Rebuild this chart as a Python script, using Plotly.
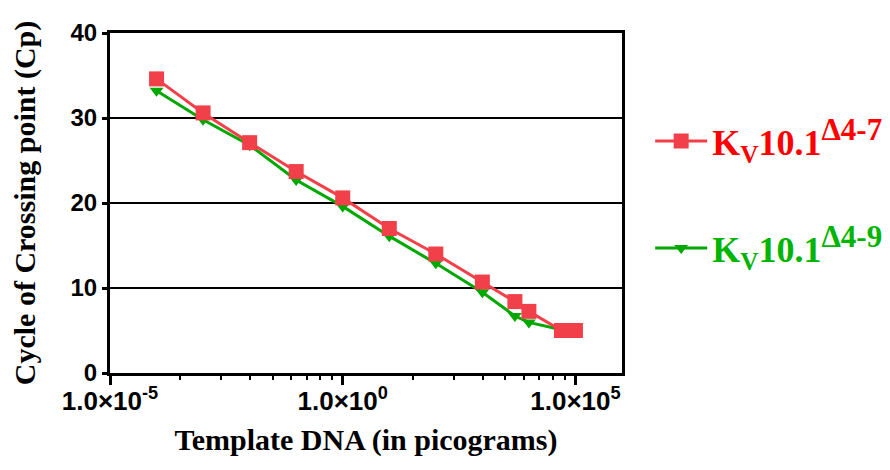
import math
import plotly.graph_objects as go

# Data
template_dna_pg = [1e-4, 1e-3, 1e-2, 1e-1, 1e0, 1e1, 1e2, 1e3, 5e3, 1e4, 5e4, 1e5]
cp_delta_4_7 = [34.6, 30.6, 27.1, 23.7, 20.6, 17.0, 14.0, 10.7, 8.4, 7.25, 5.0, 5.0]
cp_delta_4_9 = [33.2, 29.8, 26.8, 22.7, 19.6, 16.1, 12.9, 9.5, 6.7, 5.95, 5.1, 5.0]

x_tick_vals = [1e-5, 1e0, 1e5]
x_tick_text = ["1.0×10<sup>-5</sup>", "1.0×10<sup>0</sup>", "1.0×10<sup>5</sup>"]
y_tick_vals = [0, 10, 20, 30, 40]

series_names = [
    '<span style="color:#FF0000">K<sub>V</sub>10.1<sup><span style="font-size:31px">Δ4-7</span></sup></span>',
    '<span style="color:#00B400">K<sub>V</sub>10.1<sup><span style="font-size:31px">Δ4-9</span></sup></span>',
]

# minor ticks (Prism style: log-spaced within each 5-decade major interval)
minor_vals = []
for base in (-5, 0):
    for k in range(2, 10):
        minor_vals.append(10 ** (base + 5 * math.log10(k)))

SANS = "Arial, Liberation Sans, sans-serif"
SERIF = "Times New Roman, Liberation Serif, serif"

fig = go.Figure()
fig.add_trace(go.Scatter(
    x=template_dna_pg, y=cp_delta_4_9, name=series_names[1],
    mode="lines+markers", legendgroup="b", legendrank=2,
    line=dict(color="#00A800", width=3),
    marker=dict(symbol="triangle-down", size=12, color="#00A800"),
))
fig.add_trace(go.Scatter(
    x=template_dna_pg, y=cp_delta_4_7, name=series_names[0],
    mode="lines+markers", legendgroup="a", legendrank=1,
    line=dict(color="#F2404A", width=3),
    marker=dict(symbol="square", size=15, color="#F2404A"),
))

# the page body has an 8px default margin, so the figure is sized/placed to compensate
fig.update_layout(
    width=882, height=462,
    margin=dict(l=102, r=268, t=25, b=97, autoexpand=False),
    paper_bgcolor="white", plot_bgcolor="white",
    showlegend=True,
    legend=dict(
        x=1.055, xanchor="left", y=0.77, yanchor="top",
        font=dict(family=SERIF, size=36, weight="bold"),
        tracegroupgap=57, bgcolor="rgba(0,0,0,0)",
        traceorder="grouped", itemwidth=52,
    ),
    xaxis=dict(
        type="log", range=[-5, 6], automargin=False,
        tickmode="array", tickvals=x_tick_vals, ticktext=x_tick_text,
        tickfont=dict(family=SANS, size=26, color="black", weight="bold"),
        ticks="outside", ticklen=9, tickwidth=3, tickcolor="black",
        ticklabelstandoff=-6,
        showline=True, linecolor="black", linewidth=3, mirror=True,
        showgrid=False, zeroline=False,
        minor=dict(tickmode="array", tickvals=minor_vals, ticks="outside",
                   ticklen=4, tickwidth=2, tickcolor="black", showgrid=False),
        title=dict(text="Template DNA (in picograms)", standoff=14,
                   font=dict(family=SERIF, size=30, color="black", weight="bold")),
    ),
    yaxis=dict(
        range=[0, 40], tickmode="array", tickvals=y_tick_vals, automargin=False,
        tickfont=dict(family=SANS, size=24, color="black", weight="bold"),
        ticks="outside", ticklen=5, tickwidth=3, tickcolor="black",
        showline=True, linecolor="black", linewidth=3, mirror=True,
        showgrid=True, gridcolor="black", gridwidth=1.5, zeroline=False,
        title=dict(text="Cycle of Crossing point (Cp)", standoff=27,
                   font=dict(family=SERIF, size=30, color="black", weight="bold")),
    ),
)

fig.write_html("out.html")
